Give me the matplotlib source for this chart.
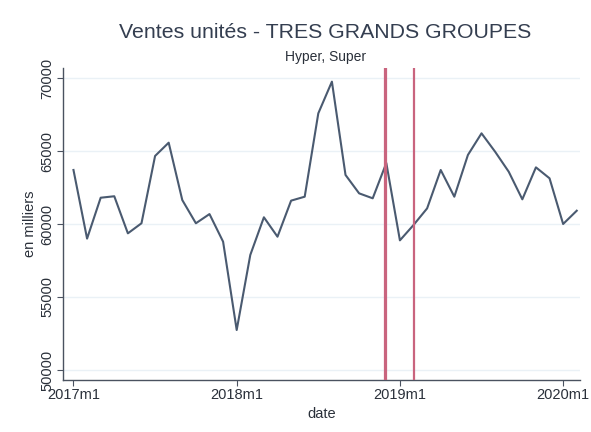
import matplotlib
matplotlib.use("Agg")
import matplotlib.pyplot as plt
import numpy as np

plt.rcParams['font.family'] = ['Liberation Sans', 'DejaVu Sans']

# Monthly data 2017m1 .. 2020m2 (index 0 = 2017m1)
values = [63700, 59000, 61800, 61900, 59360, 60050, 64660, 65570, 61640, 60050,
          60680, 58790, 52740, 57880, 60460, 59130, 61600, 61870, 67580, 69750,
          63360, 62100, 61760, 64180, 58880, 59930, 61070, 63700, 61870, 64730,
          66210, 64950, 63580, 61690, 63880, 63130, 60000, 60910]
months = np.arange(len(values))
xtick_pos = [0, 12, 24, 36]
xtick_labels = ["2017m1", "2018m1", "2019m1", "2020m1"]
ytick_vals = [50000, 55000, 60000, 65000, 70000]
vlines = [23, 25]  # 2018m12, 2019m2

W, H = 591, 432
fig = plt.figure(figsize=(W/100, H/100), dpi=100, facecolor='white')
ax = fig.add_axes([63/W, 1-380/H, (580-63)/W, (380-68)/H])

ax.set_xlim(-0.77, 37.24)
ax.set_ylim(49315, 70685)

for v in ytick_vals:
    ax.axhline(v, color='#eaf1f6', lw=1.0, zorder=0)

ax.plot(months, values, color='#4a5a70', lw=1.5, zorder=3)
for vx in vlines:
    ax.axvline(vx, color='#c9647e', lw=1.6, zorder=4)
ax.axvline(22.92, color='#c9647e', lw=1.6, zorder=4)

ax.set_xticks(xtick_pos)
ax.set_xticklabels(xtick_labels)
ax.set_yticks(ytick_vals)
ax.set_yticklabels([str(v) for v in ytick_vals], rotation=90, va='center')

for s in ['top', 'right']:
    ax.spines[s].set_visible(False)
for s in ['left', 'bottom']:
    ax.spines[s].set_color('#4a5260')
    ax.spines[s].set_linewidth(1.0)

ax.tick_params(axis='both', colors='#4a5260', labelcolor='#2a303a', labelsize=10.5, length=4, width=0.8, pad=2)

ax.set_xlabel('date', fontsize=10.5, color='#2a303a', labelpad=3)
ax.set_ylabel('en milliers', fontsize=10.5, color='#2a303a', labelpad=3)

fig.text(325/W, 1-33/H, 'Ventes unités - TRES GRANDS GROUPES', ha='center', va='center',
         fontsize=15.3, color='#343e50')
fig.text(326/W, 1-57/H, 'Hyper, Super', ha='center', va='center', fontsize=10, color='#2a303a')

fig.savefig('out.png', dpi=100, facecolor='white')
